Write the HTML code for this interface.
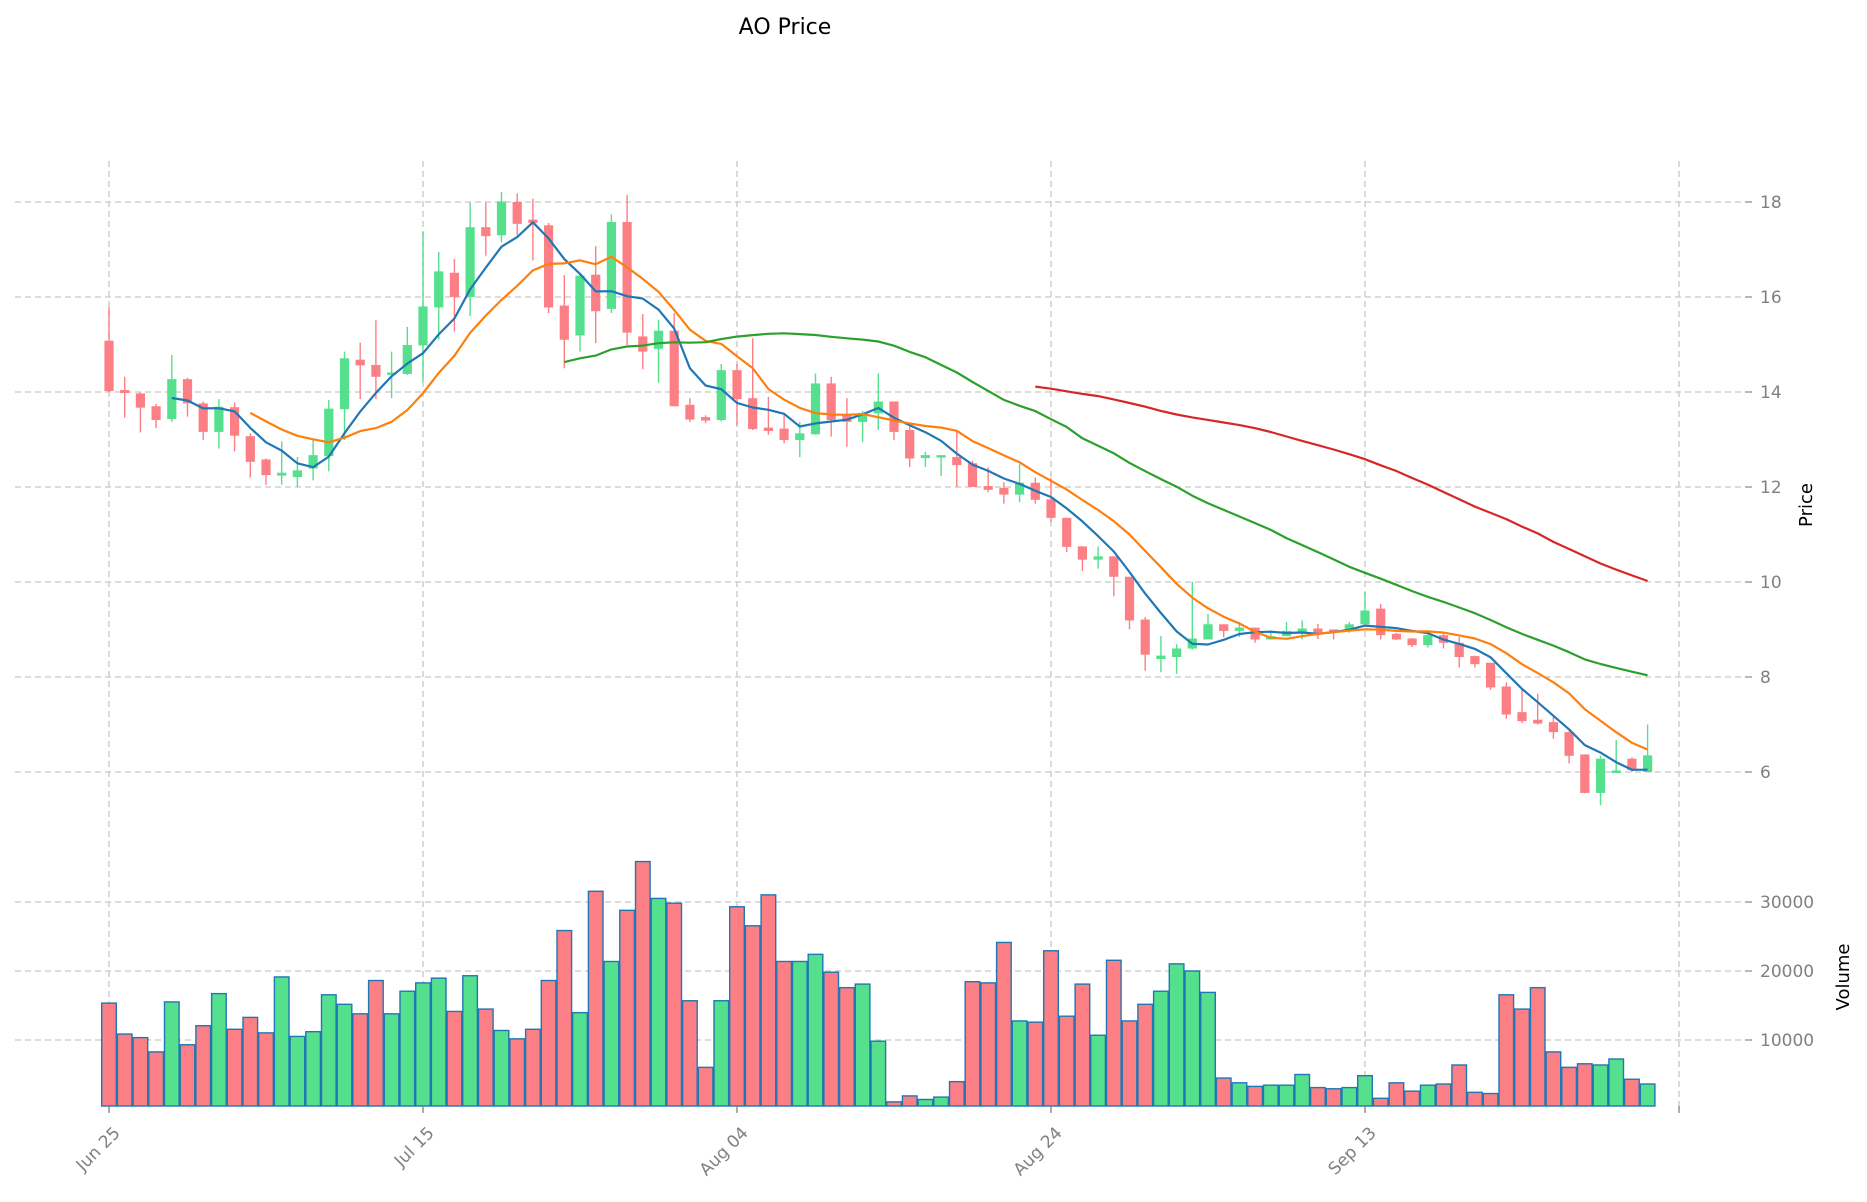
<!DOCTYPE html>
<html><head><meta charset="utf-8"><style>
html,body{margin:0;padding:0;background:#fff;}
svg{display:block;}
text{font-family:"DejaVu Sans","Liberation Sans",sans-serif;}
</style></head><body>
<svg id="c" width="1867" height="1202" xmlns="http://www.w3.org/2000/svg"></svg>
<script>
const D=[
[15.08,14.02,15.79,14.0],[14.02,14.0,14.32,13.46],[13.97,13.67,13.99,13.15],[13.70,13.41,13.75,13.24],[13.43,14.27,14.78,13.37],
[14.27,13.76,14.30,13.48],[13.76,13.16,13.80,12.99],[13.16,13.69,13.85,12.81],[13.68,13.08,13.78,12.75],[13.07,12.53,13.13,12.2],
[12.58,12.25,12.6,12.04],[12.26,12.28,12.96,12.05],[12.21,12.35,12.63,12.0],[12.39,12.67,12.99,12.14],[12.65,13.65,13.83,12.33],
[13.64,14.71,14.85,12.99],[14.68,14.56,15.04,13.85],[14.57,14.32,15.51,13.85],[14.36,14.41,14.85,13.87],[14.38,14.99,15.37,14.36],
[14.98,15.80,17.37,14.22],[15.78,16.54,16.95,15.1],[16.51,16.0,16.8,15.27],[16.0,17.47,17.99,15.6],[17.47,17.28,17.99,16.87],
[17.30,18.01,18.21,17.15],[18.0,17.54,18.18,17.3],[17.63,17.56,18.07,16.77],[17.51,15.78,17.56,15.66],[15.82,15.1,16.46,14.5],
[15.19,16.45,16.5,14.85],[16.47,15.7,17.07,15.03],[15.75,17.58,17.74,15.66],[17.58,15.25,18.15,14.99],[15.17,14.85,15.64,14.48],
[14.91,15.29,15.52,14.2],[15.29,13.70,15.66,13.7],[13.73,13.42,13.87,13.37],[13.45,13.42,13.51,13.34],[13.41,14.46,14.59,13.38],
[14.46,13.85,14.59,13.3],[13.87,13.22,15.13,13.2],[13.25,13.18,13.9,13.1],[13.23,12.99,13.53,12.92],[12.99,13.13,13.37,12.63],
[13.11,14.18,14.39,13.1],[14.18,13.41,14.32,13.06],[13.51,13.37,13.87,12.85],[13.37,13.56,13.6,12.95],[13.55,13.80,14.39,13.2],
[13.80,13.16,13.8,12.99],[13.2,12.6,13.27,12.42],[12.63,12.65,12.74,12.42],[12.64,12.65,12.66,12.23],[12.63,12.46,13.2,12.0],
[12.5,12.0,12.55,12.0],[12.02,11.94,12.41,11.89],[11.98,11.84,12.1,11.65],[11.84,12.09,12.49,11.68],[12.09,11.73,12.2,11.65],
[11.74,11.35,12.19,11.26],[11.35,10.74,11.35,10.63],[10.75,10.47,10.75,10.23],[10.47,10.54,10.75,10.28],[10.54,10.11,10.54,9.7],
[10.11,9.19,10.11,9.0],[9.21,8.47,9.26,8.13],[8.40,8.43,8.86,8.1],[8.42,8.6,8.69,8.07],[8.6,8.81,10.0,8.58],
[8.79,9.11,9.33,8.79],[9.11,8.97,9.11,8.84],[8.97,9.04,9.16,8.84],[9.04,8.79,9.04,8.72],[8.79,8.86,8.98,8.79],
[8.86,8.97,9.16,8.86],[8.93,9.02,9.19,8.79],[9.02,8.91,9.12,8.8],[8.98,8.97,9.0,8.79],[8.97,9.11,9.16,8.93],
[9.11,9.40,9.79,9.11],[9.44,8.88,9.54,8.79],[8.91,8.79,8.93,8.78],[8.81,8.67,8.82,8.63],[8.67,8.88,8.9,8.62],
[8.88,8.72,8.93,8.6],[8.72,8.42,8.84,8.2],[8.44,8.27,8.45,8.2],[8.3,7.78,8.3,7.73],[7.8,7.21,7.89,7.12],
[7.26,7.07,7.75,7.03],[7.1,7.02,7.65,7.0],[7.05,6.84,7.16,6.7],[6.84,6.34,6.86,6.18],[6.37,5.56,6.37,5.55],
[5.56,6.28,6.35,5.3],[6.0,6.01,6.67,6.0],[6.28,6.04,6.31,6.0],[6.0,6.35,7.0,6.0]];
const VT=[842,868,871,883,841,877,861,834,864,854,867,820,870,866,835,843,851,823,851,832,825,821,849,819,847,865,872,864,823,781,850,748,807,764,723,754,758,840,896,840,761,777,751,807,807,801,816,829,826,874,925,920,923,921,908,824,825,791,857,858,798,853,826,869,806,857,843,832,809,815,833,905,909,912,911,911,902,913,914,913,903,922,909,916,911,910,894,917,918,835,847,829,883,896,893,894,889,906,910];
const UP="#55e08d",DN="#fd7f86";
const X=i=>109+15.7*i, Y=p=>772-(p-6)*47.5, VY=t=>1109-(931-t)/58*10000*0.0069;
let s='';
const g='stroke="#d0d0d0" stroke-width="1.6" stroke-dasharray="6,4" fill="none"';
[6,8,10,12,14,16,18].forEach(p=>{s+=`<line x1="15" x2="1745" y1="${Y(p)}" y2="${Y(p)}" ${g}/>`;});
[10000,20000,30000].forEach(v=>{let y=1109-v*0.0069;s+=`<line x1="15" x2="1745" y1="${y}" y2="${y}" ${g}/>`;});
[0,20,40,60,80,100].forEach(d=>{s+=`<line x1="${X(d)}" x2="${X(d)}" y1="161" y2="1106" ${g}/>`;});
D.forEach((d,i)=>{const c=d[1]>=d[0]?UP:DN;let y=VY(VT[i]);s+=`<rect x="${X(i)-7.3}" y="${y}" width="14.6" height="${1106-y}" fill="${c}" stroke="#1f77b4" stroke-width="1.4"/>`;});
D.forEach((d,i)=>{const c=d[1]>=d[0]?UP:DN;const x=X(i);s+=`<line x1="${x}" x2="${x}" y1="${Y(d[2])}" y2="${Y(d[3])}" stroke="${c}" stroke-width="1.4"/>`;
let t=Y(Math.max(d[0],d[1])),b=Y(Math.min(d[0],d[1]));if(b-t<2){t-=1;b+=1;}s+=`<rect x="${x-4.6}" y="${t}" width="9.2" height="${b-t}" fill="${c}"/>`;});
[[5,"#1f77b4"],[10,"#ff7f0e"],[30,"#2ca02c"],[60,"#d62728"]].forEach(([w,c])=>{let pts=[];for(let i=w-1;i<D.length;i++){let m=0;for(let k=i-w+1;k<=i;k++)m+=D[k][1];m/=w;pts.push(X(i).toFixed(1)+','+Y(m).toFixed(1));}
s+=`<polyline points="${pts.join(' ')}" fill="none" stroke="${c}" stroke-width="2.2" stroke-linejoin="round"/>`;});
[6,8,10,12,14,16,18].forEach(p=>{s+=`<line x1="1745" x2="1752" y1="${Y(p)}" y2="${Y(p)}" stroke="#888" stroke-width="1.2"/><text x="1760" y="${Y(p)+6}" font-size="17" fill="#808080">${p}</text>`;});
[10000,20000,30000].forEach(v=>{let y=1109-v*0.0069;s+=`<line x1="1745" x2="1752" y1="${y}" y2="${y}" stroke="#888" stroke-width="1.2"/><text x="1760" y="${y+6}" font-size="17" fill="#808080">${v}</text>`;});
const L=[[0,"Jun 25"],[20,"Jul 15"],[40,"Aug 04"],[60,"Aug 24"],[80,"Sep 13"]];
L.forEach(([d,t])=>{let x=X(d);s+=`<line x1="${x}" x2="${x}" y1="1106" y2="1113" stroke="#888" stroke-width="1.4"/><text transform="translate(${x+12},${1134}) rotate(-45)" text-anchor="end" font-size="17" fill="#808080">${t}</text>`;});
s+=`<line x1="${X(100)}" x2="${X(100)}" y1="1106" y2="1113" stroke="#888" stroke-width="1.4"/>`;
s+=`<text transform="translate(1812,505) rotate(-90)" text-anchor="middle" font-size="18" fill="#000">Price</text>`;
s+=`<text transform="translate(1849,977) rotate(-90)" text-anchor="middle" font-size="18" fill="#000">Volume</text>`;
s+=`<text x="785" y="34" text-anchor="middle" font-size="22" fill="#000">AO Price</text>`;
document.getElementById('c').innerHTML=s;
</script>
</body></html>
